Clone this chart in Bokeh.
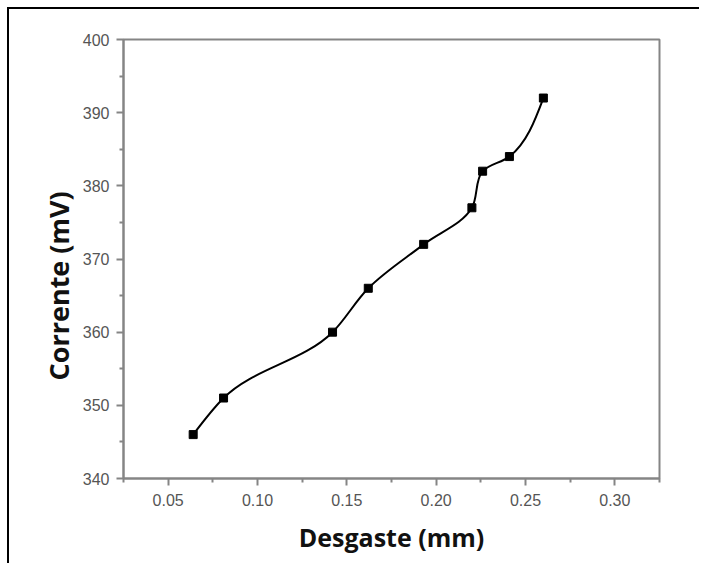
from bokeh.plotting import figure
from bokeh.embed import file_html
from bokeh.resources import INLINE
from bokeh.models import Range1d, FixedTicker, CustomJSTickFormatter, Title
import numpy as np

# Data
desgaste = [0.064, 0.081, 0.142, 0.162, 0.193, 0.220, 0.226, 0.241, 0.260]
corrente = [346, 351, 360, 366, 372, 377, 382, 384, 392]
x_ticks = [0.05, 0.10, 0.15, 0.20, 0.25, 0.30]
x_minor = [0.025, 0.075, 0.125, 0.175, 0.225, 0.275, 0.325]
y_ticks = [340, 350, 360, 370, 380, 390, 400]
y_minor = [345, 355, 365, 375, 385, 395]

p = figure(frame_width=536, frame_height=439,
           min_border_left=114, min_border_right=40,
           min_border_top=30, min_border_bottom=85,
           x_range=Range1d(0.025, 0.325), y_range=Range1d(340, 400),
           output_backend="svg", toolbar_location=None)
p.styles = {"margin-left": "7px", "margin-top": "7px",
            "border-left": "2px solid black", "border-top": "2px solid black"}
p.grid.visible = False
p.background_fill_color = "white"
p.border_fill_color = "white"
p.outline_line_color = "#858585"
p.outline_line_width = 2

for ax, ticks, minor in ((p.xaxis, x_ticks, x_minor), (p.yaxis, y_ticks, y_minor)):
    ax.ticker = FixedTicker(ticks=ticks, minor_ticks=minor)
    ax.axis_line_color = "#858585"
    ax.axis_line_width = 2
    ax.major_tick_line_color = "#858585"
    ax.major_tick_line_width = 2
    ax.minor_tick_line_color = "#858585"
    ax.minor_tick_line_width = 2
    ax.major_tick_out = 7
    ax.major_tick_in = 0
    ax.minor_tick_out = 4
    ax.minor_tick_in = 0
    ax.major_label_text_font = "Liberation Sans"
    ax.major_label_text_font_size = "16px"
    ax.major_label_text_color = "#555555"
    ax.axis_label_text_font = "Open Sans"
    ax.axis_label_text_font_style = "bold"
    ax.axis_label_text_color = "#111111"

p.xaxis.axis_label = "Desgaste (mm)"
p.xaxis.axis_label_text_font_size = "25px"
p.xaxis.major_label_standoff = 8
p.yaxis.major_label_standoff = 7
p.xaxis.axis_label_standoff = 11
p.xaxis.formatter = CustomJSTickFormatter(code="return tick.toFixed(2);")

ylab = Title(text="Corrente (mV)", align="left", offset=98,
             text_font="Open Sans", text_font_style="bold",
             text_font_size="27px", text_color="#111111", standoff=6)
p.add_layout(ylab, "left")

# Smooth curve through the points: Hermite segments with chord-length
# (Bessel) tangents, computed on frame-normalised coordinates, drawn as Beziers
xs = np.array(desgaste)
ys = np.array(corrente, dtype=float)
u = (xs - 0.025) / 0.30 * 536.0
v = (ys - 340.0) / 60.0 * 439.0
P = np.stack([u, v], axis=1)
n = len(u)
h = np.hypot(np.diff(u), np.diff(v))
S = np.diff(P, axis=0) / h[:, None]
m = np.zeros_like(P)
for i in range(1, n - 1):
    m[i] = (S[i - 1] * h[i] + S[i] * h[i - 1]) / (h[i - 1] + h[i])
m[0] = 1.5 * S[0] - 0.5 * m[1]
m[-1] = 1.5 * S[-1] - 0.5 * m[-2]
C0 = P[:-1] + h[:, None] / 3 * m[:-1]
C1 = P[1:] - h[:, None] / 3 * m[1:]
cx0 = 0.025 + C0[:, 0] * 0.30 / 536.0
cy0 = 340.0 + C0[:, 1] * 60.0 / 439.0
cx1 = 0.025 + C1[:, 0] * 0.30 / 536.0
cy1 = 340.0 + C1[:, 1] * 60.0 / 439.0
p.bezier(x0=xs[:-1], y0=ys[:-1], x1=xs[1:], y1=ys[1:],
         cx0=cx0, cy0=cy0, cx1=cx1, cy1=cy1,
         line_color="black", line_width=2)

p.scatter(desgaste, corrente, marker="square", size=8,
          fill_color="black", line_color="black")

open("out.html", "w").write(file_html(p, INLINE))
